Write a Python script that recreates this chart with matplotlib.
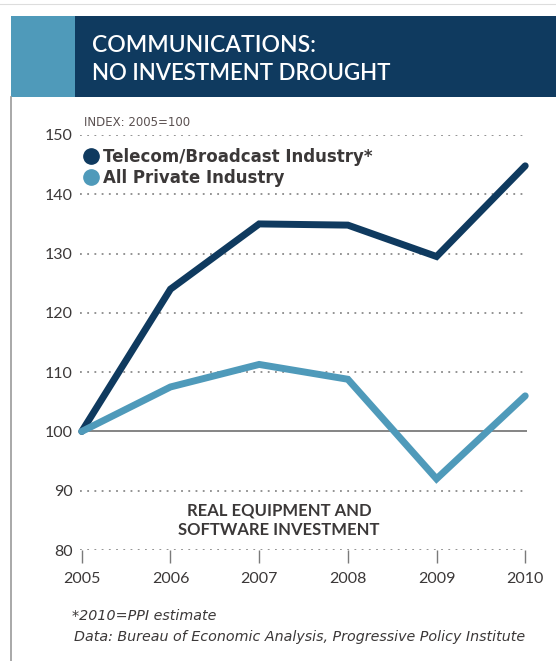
import matplotlib.pyplot as plt
from matplotlib.lines import Line2D
from matplotlib.patches import Rectangle

years = [2005, 2006, 2007, 2008, 2009, 2010]
telecom = [100, 124, 135, 134.8, 129.5, 144.8]
private = [100, 107.5, 111.3, 108.8, 92, 106]
y_ticks = [80, 90, 100, 110, 120, 130, 140, 150]

NAVY = '#0f3a5f'
LIGHT = '#4f9aba'
TEXT = '#3b3838'
GRID = '#8a8a8a'
WIDE = ['DejaVu Sans']

plt.rcParams['font.family'] = ['Lato', 'DejaVu Sans']

W, H = 556, 661
fig = plt.figure(figsize=(W / 100, H / 100), dpi=100)

def fx(px):
    return px / W

def fy(py):
    return 1 - py / H

# frame and header band
fig.add_artist(Line2D([fx(0), fx(556)], [fy(4), fy(4)], color='#dddddd', lw=0.8))
fig.add_artist(Line2D([fx(11), fx(11)], [fy(97), fy(661)], color='#9a9a9a', lw=1.2))
fig.add_artist(Rectangle((fx(11), fy(97)), fx(64), fy(16) - fy(97), color=LIGHT, lw=0))
fig.add_artist(Rectangle((fx(75), fy(97)), fx(481), fy(16) - fy(97), color=NAVY, lw=0))
fig.text(fx(92), fy(45), 'COMMUNICATIONS:', color='white', fontsize=16.5,
         fontweight='semibold', va='center', ha='left')
fig.text(fx(92), fy(73), 'NO INVESTMENT DROUGHT', color='white', fontsize=16,
         fontweight='semibold', va='center', ha='left')

ax = fig.add_axes([fx(80), fy(550), fx(447), fy(135) - fy(550)])
ax.set_xlim(2004.98, 2010.02)
ax.set_ylim(80, 150)
for s in ax.spines.values():
    s.set_visible(False)

for v in y_ticks:
    if v == 100:
        ax.axhline(v, color='#6f6f6f', lw=1.2, zorder=1)
    else:
        ax.axhline(v, color=GRID, lw=1.3, ls=(0, (1, 3)), zorder=1)

ax.plot(years, telecom, color=NAVY, lw=5, solid_capstyle='round',
        solid_joinstyle='miter', zorder=3, clip_on=False)
ax.plot(years, private, color=LIGHT, lw=5, solid_capstyle='round',
        solid_joinstyle='miter', zorder=3, clip_on=False)

ax.set_yticks(y_ticks)
ax.set_yticklabels([str(v) for v in y_ticks], fontsize=11.5, color=TEXT)
ax.tick_params(axis='y', length=0, pad=5)
ax.set_xticks(years)
ax.set_xticklabels([str(y) for y in years], fontsize=11.5, color=TEXT)
ax.tick_params(axis='x', length=9, width=1, color='#7a7a7a', pad=7, direction='out')

ax.text(0.01, 1.03, 'INDEX: 2005=100', transform=ax.transAxes, fontsize=8.5,
        family=WIDE, color='#5a5050', ha='left', va='center')

handles = [
    Line2D([], [], marker='o', ls='none', color=NAVY, markersize=11),
    Line2D([], [], marker='o', ls='none', color=LIGHT, markersize=11),
]
leg = ax.legend(handles, ['Telecom/Broadcast Industry*', 'All Private Industry'],
                loc='upper left', bbox_to_anchor=(-0.012, 0.985), frameon=False,
                handletextpad=0.1, handlelength=1.2, labelspacing=0.2,
                borderaxespad=0.0,
                prop={'weight': 'bold', 'size': 12, 'family': WIDE})
for t in leg.get_texts():
    t.set_color(TEXT)

fig.text(fx(279), fy(510), 'REAL EQUIPMENT AND', fontsize=12, fontweight='bold',
         color=TEXT, ha='center', va='center')
fig.text(fx(279), fy(530), 'SOFTWARE INVESTMENT', fontsize=12, fontweight='bold',
         color=TEXT, ha='center', va='center')

fig.text(fx(72), fy(616), '*2010=PPI estimate', fontsize=10.3, style='italic',
         family=WIDE, color=TEXT, ha='left', va='center')
fig.text(fx(74), fy(637), 'Data: Bureau of Economic Analysis, Progressive Policy Institute',
         fontsize=10.3, style='italic', family=WIDE, color=TEXT, ha='left', va='center')

fig.savefig('out.png', dpi=100)
